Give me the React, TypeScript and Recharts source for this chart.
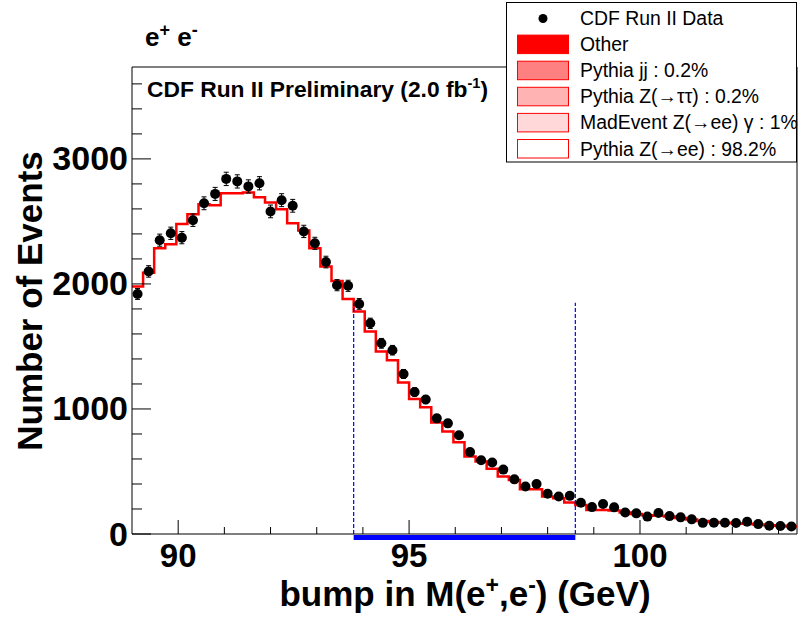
import React from 'react';
import { ComposedChart, Line, Scatter, ErrorBar, XAxis, YAxis, ReferenceLine } from 'recharts';

// bin centres of M(e+,e-) bump (GeV), 0.24 GeV wide bins
const MASS_BIN_CENTERS = [
  89.12, 89.36, 89.6, 89.84, 90.08, 90.32, 90.56, 90.8, 91.04, 91.28,
  91.52, 91.76, 92.0, 92.24, 92.48, 92.72, 92.96, 93.2, 93.44, 93.68,
  93.92, 94.16, 94.4, 94.64, 94.88, 95.12, 95.36, 95.6, 95.84, 96.08,
  96.32, 96.56, 96.8, 97.04, 97.28, 97.52, 97.76, 98.0, 98.24, 98.48,
  98.72, 98.96, 99.2, 99.44, 99.68, 99.92, 100.16, 100.4, 100.64, 100.88,
  101.12, 101.36, 101.6, 101.84, 102.08, 102.32, 102.56, 102.8, 103.04, 103.28,
];
const BIN_HALF_WIDTH = 0.12;

// CDF Run II data (events per bin)
const DATA_COUNTS = [
  1920, 2100, 2350, 2405, 2370, 2510, 2645, 2720, 2840, 2820,
  2780, 2805, 2580, 2670, 2625, 2420, 2325, 2175, 1990, 1985,
  1840, 1685, 1525, 1470, 1280, 1135, 1075, 925, 885, 790,
  655, 590, 572, 515, 437, 380, 400, 322, 300, 305,
  250, 215, 240, 213, 172, 165, 139, 168, 143, 133,
  117, 89, 90, 90, 88, 98, 79, 66, 64, 60,
];

// stacked MC expectation (total)
const MC_EXPECTED = [
  1980, 2090, 2285, 2317, 2480, 2557, 2637, 2630, 2725, 2725,
  2731, 2693, 2651, 2597, 2485, 2427, 2285, 2139, 2024, 1880,
  1779, 1619, 1459, 1389, 1211, 1080, 1013, 891, 819, 733,
  619, 579, 521, 459, 432, 357, 357, 299, 285, 251,
  232, 192, 192, 187, 171, 160, 150, 145, 140, 128,
  115, 103, 95, 90, 86, 82, 76, 70, 65, 60,
];

const X_DOMAIN = [89, 103.4];
const Y_DOMAIN = [0, 3735];
const X_TICKS = [90, 91, 92, 93, 94, 95, 96, 97, 98, 99, 100, 101, 102, 103];
const X_TICK_LABELS = [90, 95, 100];
const Y_TICKS = [0, 200, 400, 600, 800, 1000, 1200, 1400, 1600, 1800, 2000, 2200, 2400, 2600, 2800, 3000, 3200, 3400, 3600];
const Y_TICK_LABELS = [0, 1000, 2000, 3000];

const WINDOW_EDGES = [93.8, 98.6];
const WINDOW_LINE_TOP = 1850;
const WINDOW_BAR_LEVEL = -28;

const LEGEND_ITEMS = [
  { label: 'CDF Run II Data', kind: 'dot', fill: '#000000' },
  { label: 'Other', kind: 'box', fill: '#ff0000' },
  { label: 'Pythia jj : 0.2%', kind: 'box', fill: '#ff8080' },
  { label: 'Pythia Z(\u2192\u03c4\u03c4) : 0.2%', kind: 'box', fill: '#ffb3b3' },
  { label: 'MadEvent Z(\u2192ee) \u03b3 : 1%', kind: 'box', fill: '#ffd9d9' },
  { label: 'Pythia Z(\u2192ee) : 98.2%', kind: 'box', fill: '#ffffff' },
];

const FONT = '"Liberation Sans", Arial, Helvetica, sans-serif';

const pointData = MASS_BIN_CENTERS.map((m, i) => ({
  mass: m,
  events: DATA_COUNTS[i],
  err: Math.sqrt(DATA_COUNTS[i]),
}));

const histData = [
  ...MASS_BIN_CENTERS.map((m, i) => ({ mass: m - BIN_HALF_WIDTH, mc: MC_EXPECTED[i] })),
  {
    mass: MASS_BIN_CENTERS[MASS_BIN_CENTERS.length - 1] + BIN_HALF_WIDTH,
    mc: MC_EXPECTED[MC_EXPECTED.length - 1],
  },
];

const XTick = (props: any) => {
  const { x, y, payload } = props;
  const major = X_TICK_LABELS.includes(payload.value);
  return (
    <g>
      <line x1={x} y1={y} x2={x} y2={y - (major ? 14 : 7)} stroke="#000" strokeWidth={1} />
      {major && (
        <text x={x} y={y + 33} textAnchor="middle" fontFamily={FONT} fontWeight="bold" fontSize={33} fill="#000">
          {payload.value}
        </text>
      )}
    </g>
  );
};

const YTick = (props: any) => {
  const { x, y, payload } = props;
  const major = Y_TICK_LABELS.includes(payload.value);
  return (
    <g>
      <line x1={x} y1={y} x2={x + (major ? 19 : 10)} y2={y} stroke="#000" strokeWidth={1} />
      {major && (
        <text x={x - 4} y={y + 11.5} textAnchor="end" fontFamily={FONT} fontWeight="bold" fontSize={34} fill="#000">
          {payload.value}
        </text>
      )}
    </g>
  );
};

const Dot = (props: any) => <circle cx={props.cx} cy={props.cy} r={5} fill="#000" />;

export default function App() {
  const rowBase = 25;
  const rowStep = 26.1;
  return (
    <div style={{ position: 'absolute', left: 0, top: 0, width: 800, height: 618, background: '#fff' }}>
      <ComposedChart width={800} height={618} margin={{ top: 67, right: 3, bottom: 0, left: 0 }}>
        <XAxis
          dataKey="mass"
          type="number"
          domain={X_DOMAIN}
          ticks={X_TICKS}
          allowDataOverflow
          height={84}
          tickLine={false}
          tickSize={0}
          tickMargin={0}
          tick={XTick}
          axisLine={{ stroke: '#000', strokeWidth: 1 }}
          interval={0}
        />
        <YAxis
          type="number"
          domain={Y_DOMAIN}
          ticks={Y_TICKS}
          allowDataOverflow
          width={132}
          tickLine={false}
          tickSize={0}
          tickMargin={0}
          tick={YTick}
          axisLine={{ stroke: '#000', strokeWidth: 1 }}
          interval={0}
        />
        <ReferenceLine y={Y_DOMAIN[1]} stroke="#000" strokeWidth={1} ifOverflow="visible" />
        <ReferenceLine x={X_DOMAIN[1]} stroke="#000" strokeWidth={1} ifOverflow="visible" />
        <Line
          data={histData}
          dataKey="mc"
          type="stepAfter"
          stroke="#ff0000"
          strokeWidth={2.5}
          dot={false}
          activeDot={false}
          isAnimationActive={false}
        />
        {WINDOW_EDGES.map((e) => (
          <ReferenceLine
            key={e}
            segment={[{ x: e, y: 0 }, { x: e, y: WINDOW_LINE_TOP }]}
            stroke="#0000ff"
            strokeWidth={1.2}
            strokeDasharray="4 2"
            ifOverflow="visible"
          />
        ))}
        <ReferenceLine
          segment={[{ x: WINDOW_EDGES[0], y: WINDOW_BAR_LEVEL }, { x: WINDOW_EDGES[1], y: WINDOW_BAR_LEVEL }]}
          stroke="#0000ff"
          strokeWidth={5}
          ifOverflow="visible"
        />
        <Scatter data={pointData} dataKey="events" shape={Dot} isAnimationActive={false}>
          <ErrorBar dataKey="err" direction="y" width={2.5} stroke="#000" strokeWidth={1} />
        </Scatter>
      </ComposedChart>

      <svg
        width={800}
        height={618}
        style={{ position: 'absolute', left: 0, top: 0, pointerEvents: 'none' }}
      >
        <text x={145} y={46} fontFamily={FONT} fontWeight="bold" fontSize={26} fill="#000">
          e<tspan fontSize={18} dy={-10}>+</tspan>
          <tspan dy={10}> e</tspan>
          <tspan fontSize={18} dy={-10}>-</tspan>
        </text>
        <text x={147} y={97} fontFamily={FONT} fontWeight="bold" fontSize={22.8} fill="#000">
          CDF Run II Preliminary (2.0 fb<tspan fontSize={14.5} dy={-9}>-1</tspan>
          <tspan dy={9}>)</tspan>
        </text>
        <text x={465} y={606} textAnchor="middle" fontFamily={FONT} fontWeight="bold" fontSize={35} fill="#000">
          bump in M(e<tspan fontSize={23} dy={-13}>+</tspan>
          <tspan dy={13}>,e</tspan>
          <tspan fontSize={23} dy={-13}>-</tspan>
          <tspan dy={13}>) (GeV)</tspan>
        </text>
        <text
          transform="translate(42,301) rotate(-90)"
          textAnchor="middle"
          fontFamily={FONT}
          fontWeight="bold"
          fontSize={35}
          fill="#000"
        >
          Number of Events
        </text>

        <rect x={506.5} y={2.5} width={290} height={159.5} fill="#fff" stroke="#000" strokeWidth={1} />
        {LEGEND_ITEMS.map((item, i) => {
          const base = rowBase + i * rowStep;
          return (
            <g key={item.label}>
              {item.kind === 'dot' ? (
                <circle cx={543} cy={base - 6.5} r={4.5} fill={item.fill} />
              ) : (
                <rect
                  x={517.5}
                  y={base - 16}
                  width={51}
                  height={18.5}
                  fill={item.fill}
                  stroke="#ff0000"
                  strokeWidth={1}
                />
              )}
              <text x={580} y={base} fontFamily={FONT} fontSize={19.4} fill="#000">
                {item.label}
              </text>
            </g>
          );
        })}
      </svg>
    </div>
  );
}
